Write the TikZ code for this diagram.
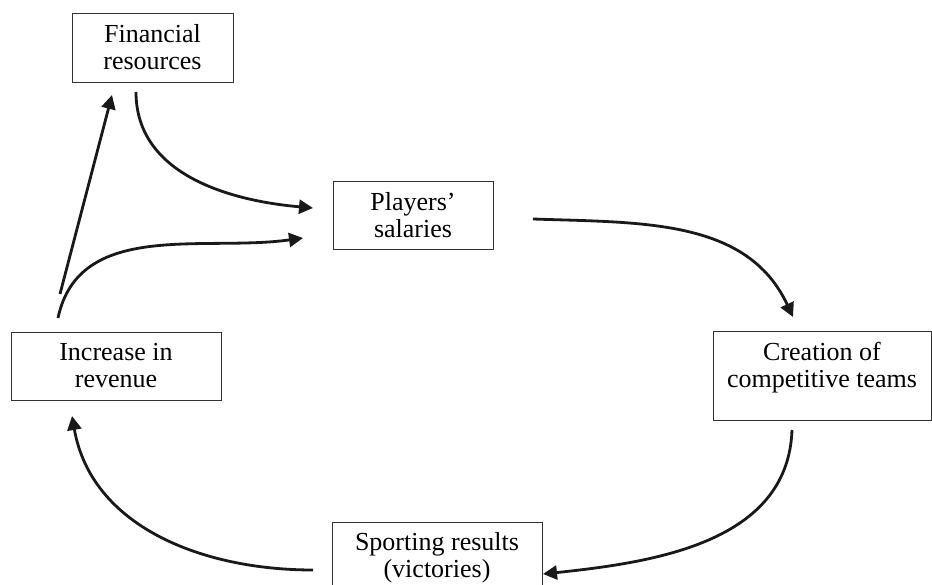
\documentclass[tikz,border=0pt]{standalone}
\usepackage{fontspec}
\setmainfont{Liberation Serif}
\usetikzlibrary{arrows.meta}
\newcommand\dstrut[1]{\rule[-#1]{0pt}{#1}}
\begin{document}
\begin{tikzpicture}[x=1pt,y=1pt,
  box/.style={draw=black!80, line width=0.9pt, rectangle, inner sep=0pt, outer sep=0pt,
    align=center, font=\fontsize{26}{27}\selectfont},
  conn/.style={line width=2.8pt, black!90, -{Triangle[length=14pt,width=14pt]}}]
\useasboundingbox (0,0) rectangle (932,-585);
\node[box, minimum width=161pt, minimum height=69pt] (fin) at (152.5,-47.5) {Financial\\resources};
\node[box, minimum width=160pt, minimum height=68pt] (pl) at (413,-215) {Players’\\salaries};
\node[box, minimum width=210pt, minimum height=68pt] (inc) at (116,-366) {Increase in\\revenue};
\node[box, minimum width=218pt, minimum height=89pt] (cre) at (822,-375.5) {Creation of\\competitive teams\dstrut{21pt}};
\node[box, minimum width=210pt, minimum height=89pt] (sp) at (437,-566.5) {Sporting results\\(victories)\dstrut{23pt}};
% connectors
\draw[conn] ([shift={(-56,38)}]inc.north) -- ([shift={(-40.5,-13)}]fin.south);
\draw[conn] ([shift={(-16.5,-10)}]fin.south) to[out=-90,in=175] ([shift={(-20,7)}]pl.west);
\draw[conn] ([shift={(-58,14)}]inc.north) to[out=78,in=188] ([shift={(-30,-23)}]pl.west);
\draw[conn] ([shift={(40,-4)}]pl.east) to[out=-2,in=115] ([shift={(-29,14)}]cre.north);
\draw[conn] ([shift={(-30,-10)}]cre.south) to[out=-92,in=6] ([shift={(1,-7.5)}]sp.east);
\draw[conn] ([shift={(-19,-3.5)}]sp.west) to[out=180,in=-80] ([shift={(-44,-16)}]inc.south);
\end{tikzpicture}
\end{document}
